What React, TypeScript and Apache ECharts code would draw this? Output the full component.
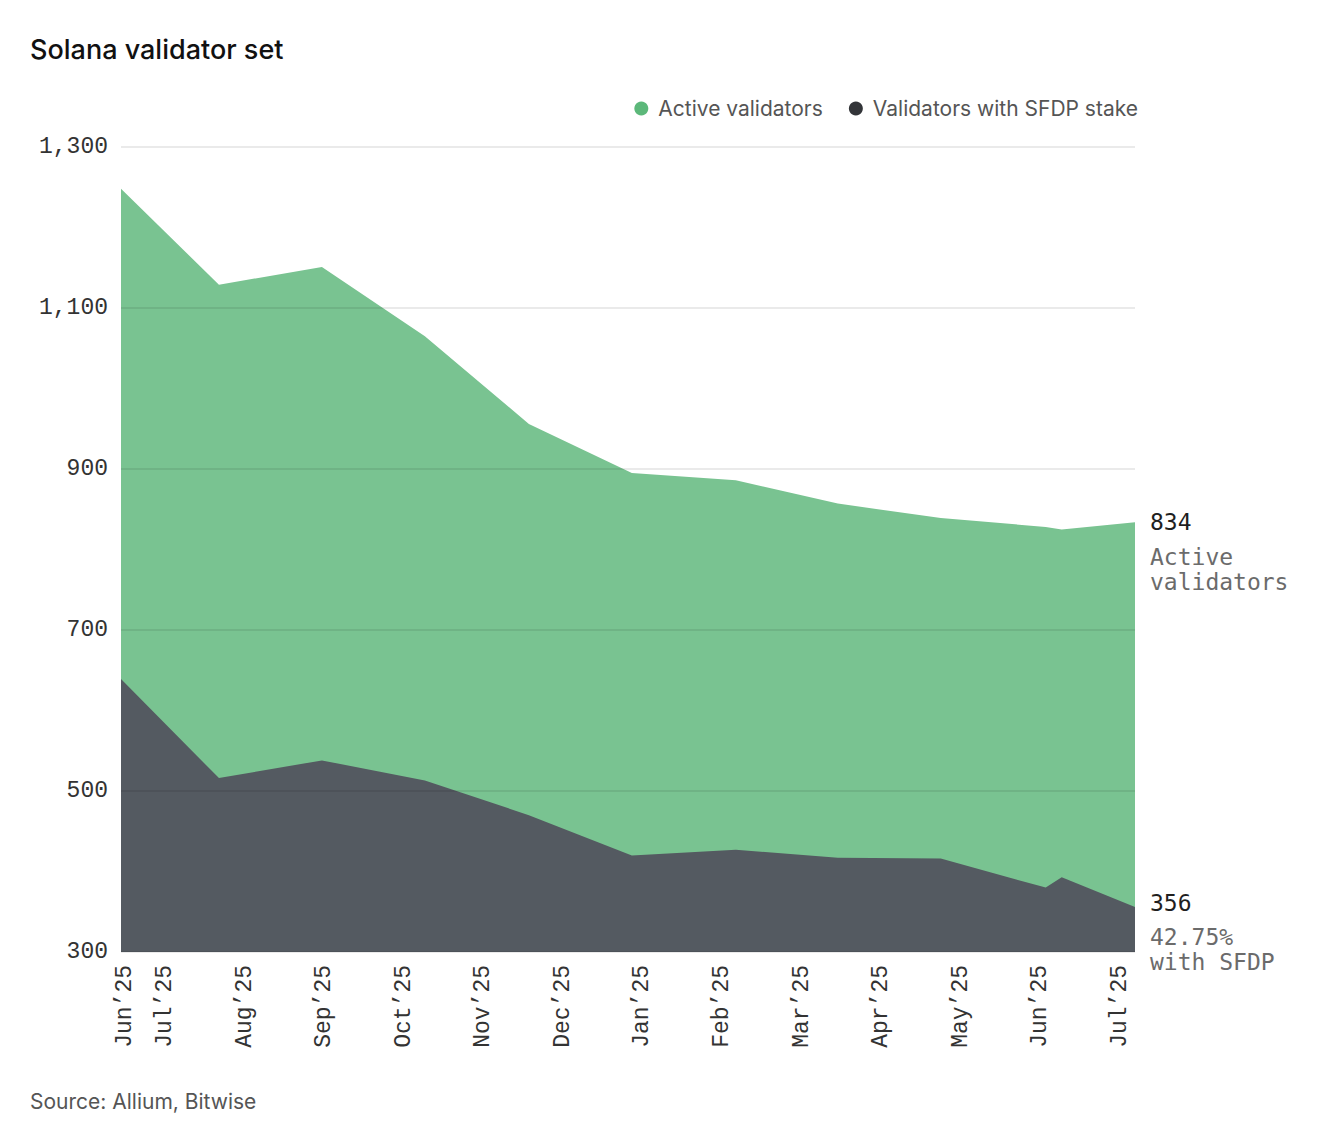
import React, { useEffect, useRef } from "react";
import * as echarts from "echarts";

// x positions in fractional months since 1 Jun 2025 (Jul'25 = 1, Jul'26 = 13)
const pointMonths = [0.447, 1.678, 2.972, 4.266, 5.573, 6.867, 8.173, 9.455, 10.749, 12.068, 12.269, 13.19];
const activeValidators = [1248, 1129, 1151, 1065, 956, 895, 886, 857, 839, 828, 825, 834];
const sfdpValidators = [639, 516, 538, 513, 470, 420, 427, 417, 416, 380, 393, 356];

const tickMonths = [0.5, 1, 2, 3, 4, 5, 6, 7, 8, 9, 10, 11, 12, 13];
const tickLabels = [
  "Jun\u201925", "Jul\u201925", "Aug\u201925", "Sep\u201925", "Oct\u201925", "Nov\u201925", "Dec\u201925",
  "Jan\u201925", "Feb\u201925", "Mar\u201925", "Apr\u201925", "May\u201925", "Jun\u201925", "Jul\u201925",
];
const yTicks = [300, 500, 700, 900, 1100, 1300];

const titleText = "Solana validator set";
const sourceText = "Source: Allium, Bitwise";
const activeName = "Active validators";
const sfdpName = "Validators with SFDP stake";
const sfdpShareLabel = "42.75%";

const MONO = "'Liberation Mono', 'DejaVu Sans Mono', monospace";
const MONO2 = "'DejaVu Sans Mono', 'Liberation Mono', monospace";
const SANS = "Inter, 'Noto Sans', Arial, sans-serif";

export default function App() {
  const ref = useRef<HTMLDivElement>(null);
  useEffect(() => {
    if (!ref.current) return;
    const chart = echarts.init(ref.current, undefined, { renderer: "svg" });
    const toPairs = (vals: number[]) => vals.map((v, i) => [pointMonths[i], v]);
    const richEnd = {
      v: { fontFamily: MONO2, fontSize: 23, color: "#1f1f1f", lineHeight: 44 },
      l: { fontFamily: MONO2, fontSize: 23, color: "#6b6b6b", lineHeight: 25 },
    };
    chart.setOption({
      animation: false,
      backgroundColor: "#ffffff",
      title: [
        {
          text: titleText,
          left: 30,
          top: 36,
          padding: 0,
          textStyle: { fontFamily: SANS, fontSize: 27, fontWeight: 500, color: "#111111" },
        },
        {
          text: sourceText,
          left: 30,
          top: 1091,
          padding: 0,
          textStyle: { fontFamily: SANS, fontSize: 21, fontWeight: 400, color: "#555555" },
        },
      ],
      legend: {
        right: 181,
        top: 93,
        icon: "circle",
        itemWidth: 24,
        itemHeight: 14,
        itemGap: 26,
        textStyle: { fontFamily: SANS, fontSize: 21, color: "#555555" },
        data: [activeName, sfdpName],
      },
      grid: { left: 121, top: 147, width: 1014, height: 805, containLabel: false },
      xAxis: {
        type: "value",
        min: pointMonths[0],
        max: pointMonths[pointMonths.length - 1],
        axisLine: { show: false },
        axisTick: { show: false, customValues: tickMonths },
        splitLine: { show: false },
        axisLabel: {
          customValues: tickMonths,
          rotate: 90,
          margin: 13,
          fontFamily: MONO,
          fontSize: 23,
          color: "#333333",
          formatter: (v: number) => {
            const i = tickMonths.findIndex((t) => Math.abs(t - v) < 1e-6);
            return i >= 0 ? tickLabels[i] : "";
          },
        },
      },
      yAxis: {
        type: "value",
        min: 300,
        max: 1300,
        z: 5,
        axisLine: { show: false },
        axisTick: { show: false, customValues: yTicks },
        splitLine: { show: true, lineStyle: { color: "rgba(0,0,0,0.11)", width: 1.5 } },
        axisLabel: {
          customValues: yTicks,
          margin: 13,
          fontFamily: MONO,
          fontSize: 23,
          color: "#333333",
          formatter: (v: number) => v.toLocaleString("en-US"),
        },
      },
      series: [
        {
          name: activeName,
          type: "line",
          data: toPairs(activeValidators),
          showSymbol: false,
          symbol: "none",
          itemStyle: { color: "#5cb87a" },
          lineStyle: { width: 0 },
          areaStyle: { color: "#79c391", opacity: 1, origin: "start" },
          z: 1,
          endLabel: {
            show: true,
            distance: 15,
            offset: [0, 25],
            formatter: (p: any) => `{v|${p.value[1]}}\n{l|Active}\n{l|validators}`,
            rich: richEnd,
          },
        },
        {
          name: sfdpName,
          type: "line",
          data: toPairs(sfdpValidators),
          showSymbol: false,
          symbol: "none",
          itemStyle: { color: "#333539" },
          lineStyle: { width: 0 },
          areaStyle: { color: "#545a61", opacity: 1, origin: "start" },
          z: 2,
          endLabel: {
            show: true,
            distance: 15,
            offset: [0, 21],
            formatter: (p: any) => `{v|${p.value[1]}}\n{l|${sfdpShareLabel}}\n{l|with SFDP}`,
            rich: richEnd,
          },
        },
      ],
    });
    return () => chart.dispose();
  }, []);
  return (
    <div
      ref={ref}
      style={{ position: "fixed", left: 0, top: 0, width: 1324, height: 1134, background: "#fff" }}
    />
  );
}
